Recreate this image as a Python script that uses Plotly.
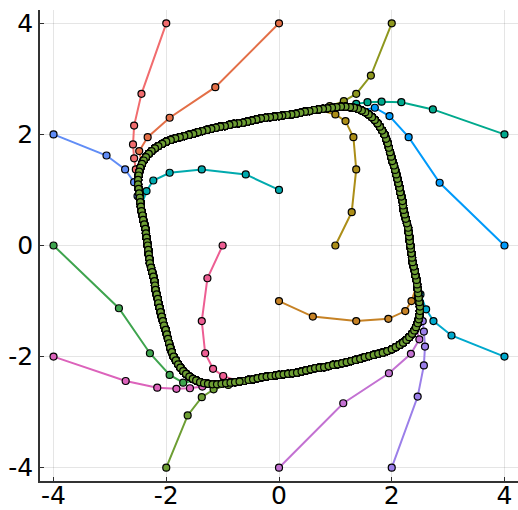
import plotly.graph_objects as go

# Limit cycle sampled counterclockwise: right side -> top -> left side -> bottom
cycle_x = [
    2.33, 2.32, 2.31, 2.30, 2.29, 2.27, 2.25, 2.23, 2.21, 2.20, 2.19, 2.17, 2.15,
    2.14, 2.12, 2.10, 2.08, 2.06, 2.04, 2.01, 1.99, 1.97, 1.95, 1.93, 1.90, 1.87,
    1.83, 1.79, 1.75, 1.70, 1.65, 1.59, 1.53, 1.47, 1.40, 1.33, 1.26, 1.18, 1.10,
    1.02, 0.94, 0.86, 0.78, 0.70, 0.62, 0.54, 0.46, 0.38, 0.30, 0.22, 0.14, 0.06,
    0.00, -0.08, -0.16, -0.24, -0.32, -0.40, -0.48, -0.56, -0.64, -0.72, -0.80, -0.88, -0.96,
    -1.04, -1.12, -1.20, -1.28, -1.36, -1.44, -1.52, -1.60, -1.68, -1.76, -1.84, -1.92, -2.00,
    -2.07, -2.14, -2.20, -2.26, -2.31, -2.36, -2.40, -2.43, -2.46, -2.48, -2.49, -2.50, -2.50,
    -2.49, -2.48, -2.47, -2.46, -2.45, -2.44, -2.42, -2.41, -2.39, -2.37, -2.36, -2.35, -2.34,
    -2.33, -2.32, -2.31, -2.30, -2.29, -2.27, -2.25, -2.23, -2.21, -2.20, -2.19, -2.17, -2.15,
    -2.14, -2.12, -2.10, -2.08, -2.06, -2.04, -2.01, -1.99, -1.97, -1.95, -1.93, -1.90, -1.87,
    -1.83, -1.79, -1.75, -1.70, -1.65, -1.59, -1.53, -1.47, -1.40, -1.33, -1.26, -1.18, -1.10,
    -1.02, -0.94, -0.86, -0.78, -0.70, -0.62, -0.54, -0.46, -0.38, -0.30, -0.22, -0.14, -0.06,
    0.00, 0.08, 0.16, 0.24, 0.32, 0.40, 0.48, 0.56, 0.64, 0.72, 0.80, 0.88, 0.96,
    1.04, 1.12, 1.20, 1.28, 1.36, 1.44, 1.52, 1.60, 1.68, 1.76, 1.84, 1.92, 2.00,
    2.07, 2.14, 2.20, 2.26, 2.31, 2.36, 2.40, 2.43, 2.46, 2.48, 2.49, 2.50, 2.50,
    2.49, 2.48, 2.47, 2.46, 2.45, 2.44, 2.42, 2.41, 2.39, 2.37, 2.36, 2.35, 2.34,
]
cycle_y = [
    0.00, 0.08, 0.16, 0.24, 0.32, 0.40, 0.48, 0.56, 0.64, 0.72, 0.80, 0.88, 0.96,
    1.04, 1.12, 1.20, 1.28, 1.36, 1.44, 1.52, 1.60, 1.68, 1.76, 1.84, 1.92, 2.00,
    2.07, 2.14, 2.20, 2.26, 2.31, 2.36, 2.40, 2.43, 2.46, 2.48, 2.49, 2.50, 2.50,
    2.49, 2.48, 2.47, 2.46, 2.45, 2.44, 2.42, 2.41, 2.39, 2.37, 2.36, 2.35, 2.34,
    2.33, 2.32, 2.31, 2.30, 2.29, 2.27, 2.25, 2.23, 2.21, 2.20, 2.19, 2.17, 2.15,
    2.14, 2.12, 2.10, 2.08, 2.06, 2.04, 2.01, 1.99, 1.97, 1.95, 1.93, 1.90, 1.87,
    1.83, 1.79, 1.75, 1.70, 1.65, 1.59, 1.53, 1.47, 1.40, 1.33, 1.26, 1.18, 1.10,
    1.02, 0.94, 0.86, 0.78, 0.70, 0.62, 0.54, 0.46, 0.38, 0.30, 0.22, 0.14, 0.06,
    0.00, -0.08, -0.16, -0.24, -0.32, -0.40, -0.48, -0.56, -0.64, -0.72, -0.80, -0.88, -0.96,
    -1.04, -1.12, -1.20, -1.28, -1.36, -1.44, -1.52, -1.60, -1.68, -1.76, -1.84, -1.92, -2.00,
    -2.07, -2.14, -2.20, -2.26, -2.31, -2.36, -2.40, -2.43, -2.46, -2.48, -2.49, -2.50, -2.50,
    -2.49, -2.48, -2.47, -2.46, -2.45, -2.44, -2.42, -2.41, -2.39, -2.37, -2.36, -2.35, -2.34,
    -2.33, -2.32, -2.31, -2.30, -2.29, -2.27, -2.25, -2.23, -2.21, -2.20, -2.19, -2.17, -2.15,
    -2.14, -2.12, -2.10, -2.08, -2.06, -2.04, -2.01, -1.99, -1.97, -1.95, -1.93, -1.90, -1.87,
    -1.83, -1.79, -1.75, -1.70, -1.65, -1.59, -1.53, -1.47, -1.40, -1.33, -1.26, -1.18, -1.10,
    -1.02, -0.94, -0.86, -0.78, -0.70, -0.62, -0.54, -0.46, -0.38, -0.30, -0.22, -0.14, -0.06,
]

# Transient part of each trajectory (from its initial condition until it meets the cycle)
transient_x = [
    [4.0, 2.85, 2.30, 1.96, 1.70],
    [0.0, -1.13, -1.94, -2.33, -2.48],
    [-4.0, -2.84, -2.29, -1.94, -1.70],
    [0.0, 1.14, 1.95, 2.34, 2.49],
    [1.0, 1.29, 1.37, 1.32, 1.18, 1.00],
    [0.0, -0.59, -1.37, -1.94, -2.23, -2.35],
    [-1.0, -1.27, -1.37, -1.31, -1.17, -0.99],
    [0.0, 0.60, 1.37, 1.94, 2.24, 2.35],
    [4.0, 2.73, 2.17, 1.82, 1.57, 1.37],
    [2.0, 1.63, 1.37, 1.15, 0.90],
    [4.0, 3.06, 2.74, 2.61, 2.51],
    [2.0, 2.46, 2.57, 2.59, 2.57, 2.55],
    [-4.0, -3.06, -2.73, -2.57, -2.51],
    [-2.0, -2.44, -2.57, -2.59, -2.57, -2.54],
    [-4.0, -2.72, -2.16, -1.82, -1.58, -1.36],
    [-2.0, -1.62, -1.37, -1.16, -0.90],
]
transient_y = [
    [0.0, 1.13, 1.95, 2.33, 2.48],
    [4.0, 2.85, 2.30, 1.95, 1.70],
    [0.0, -1.13, -1.94, -2.33, -2.47],
    [-4.0, -2.84, -2.30, -1.95, -1.69],
    [0.0, 0.60, 1.37, 1.95, 2.24, 2.36],
    [1.0, 1.28, 1.37, 1.31, 1.17, 0.98],
    [0.0, -0.59, -1.36, -1.94, -2.22, -2.35],
    [-1.0, -1.28, -1.36, -1.32, -1.18, -1.00],
    [2.0, 2.45, 2.58, 2.59, 2.58, 2.55],
    [4.0, 3.06, 2.73, 2.60, 2.51],
    [-2.0, -1.62, -1.36, -1.15, -0.88],
    [-4.0, -2.72, -2.16, -1.82, -1.55, -1.36],
    [2.0, 1.62, 1.37, 1.14, 0.89],
    [4.0, 2.73, 2.16, 1.82, 1.57, 1.37],
    [-2.0, -2.44, -2.56, -2.58, -2.57, -2.54],
    [-4.0, -3.06, -2.73, -2.59, -2.51],
]
# Index on the cycle where each trajectory settles
join_index = [33, 85, 137, 189, 43, 95, 147, 199, 37, 44, 200, 193, 96, 89, 141, 148]

colors = [
    "#009AFA", "#E36F47", "#3EA44E", "#C371D2", "#AC8E18", "#00AAAE", "#ED5E93", "#C68225",
    "#00A98D", "#8E971E", "#00A9CD", "#9B7FE9", "#618DF6", "#F16C6E", "#DC63BB", "#6D9E33",
]

tick_vals = [-4, -2, 0, 2, 4]
tick_text = ["-4", "-2", "0", "2", "4"]

fig = go.Figure()
for tx, ty, j, c in zip(transient_x, transient_y, join_index, colors):
    xs = tx + cycle_x[j:] + cycle_x[:j]
    ys = ty + cycle_y[j:] + cycle_y[:j]
    fig.add_trace(go.Scatter(
        x=xs, y=ys, mode="lines+markers",
        line=dict(color=c, width=2),
        marker=dict(color=c, size=7, line=dict(color="black", width=1.2)),
        showlegend=False,
    ))

axis_common = dict(
    range=[-4.24, 4.24],
    tickvals=tick_vals, ticktext=tick_text,
    showgrid=True, gridcolor="rgba(0,0,0,0.1)", gridwidth=1,
    zeroline=False,
    showline=True, linecolor="rgba(0,0,0,0.8)", linewidth=1.5,
    ticks="inside", ticklen=4, tickcolor="rgba(0,0,0,0.8)", tickwidth=1,
    tickfont=dict(family="DejaVu Sans", size=25, color="black"),
    automargin=False,
)

fig.update_layout(
    width=518, height=510,
    margin=dict(l=40, r=0, t=10, b=29),
    paper_bgcolor="white", plot_bgcolor="white",
    xaxis=dict(**axis_common, ticklabelstandoff=-9),
    yaxis=dict(**axis_common),
)

fig.write_html("out.html")
